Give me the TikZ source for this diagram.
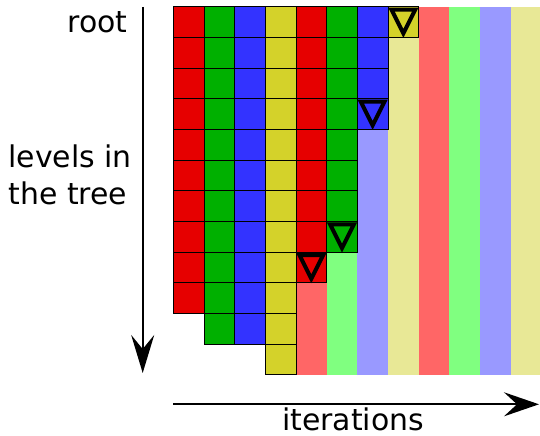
\documentclass[tikz,border=0pt]{standalone}
\usepackage{fontspec}
\setmainfont{DejaVu Sans}
\usetikzlibrary{arrows.meta}
\definecolor{cR}{HTML}{E60000}
\definecolor{cG}{HTML}{00B000}
\definecolor{cB}{HTML}{3333FF}
\definecolor{cY}{HTML}{D4D22A}
\definecolor{lR}{HTML}{FF6666}
\definecolor{lG}{HTML}{80FF80}
\definecolor{lB}{HTML}{9999FF}
\definecolor{lY}{HTML}{E8E896}
\tikzset{
  cellbox/.style={draw=black, line width=0.9bp},
  strip/.style={draw=none},
  marker/.style={draw=black, line width=4bp, line join=miter},
  axis/.style={draw=black, line width=2bp, -{Stealth[length=38bp,width=23bp,inset=14bp]}},
  lbl/.style={font=\fontsize{30}{37}\selectfont, inner sep=0pt}
}
\newcommand{\cs}{30.67}
\newcommand{\xo}{173.3}
\newcommand{\yo}{6.7}
% \cellat{col}{row}{color}
\newcommand{\cellat}[3]{%
  \path[cellbox, fill=#3] ({\xo+#1*\cs},{\yo+#2*\cs}) rectangle ++(\cs,\cs);}
% \stripat{col}{fromrow}{color}
\newcommand{\stripat}[3]{%
  \path[strip, fill=#3] ({\xo+#1*\cs},{\yo+#2*\cs}) rectangle ({\xo+(#1+1)*\cs},{\yo+12*\cs});}
\newcommand{\markat}[2]{%
  \path[marker] ({\xo+#1*\cs+3.5},{\yo+#2*\cs+3}) -- ({\xo+(#1+1)*\cs-3.5},{\yo+#2*\cs+3}) -- ({\xo+(#1+0.5)*\cs},{\yo+(#2+1)*\cs-4}) -- cycle;}
\begin{document}
\begin{tikzpicture}[x=1bp,y=-1bp]
\useasboundingbox (0,0) rectangle (540,436);
% light strips
\stripat{4}{9}{lR}
\stripat{5}{8}{lG}
\stripat{6}{4}{lB}
\stripat{7}{1}{lY}
\stripat{8}{0}{lR}
\stripat{9}{0}{lG}
\stripat{10}{0}{lB}
\stripat{11}{0}{lY}
% cells
\foreach \r in {0,...,9} {\cellat{0}{\r}{cR}}
\foreach \r in {0,...,10} {\cellat{1}{\r}{cG}}
\foreach \r in {0,...,10} {\cellat{2}{\r}{cB}}
\foreach \r in {0,...,11} {\cellat{3}{\r}{cY}}
\foreach \r in {0,...,8} {\cellat{4}{\r}{cR}}
\foreach \r in {0,...,7} {\cellat{5}{\r}{cG}}
\foreach \r in {0,...,3} {\cellat{6}{\r}{cB}}
\cellat{7}{0}{cY}
% markers
\markat{4}{8}
\markat{5}{7}
\markat{6}{3}
\markat{7}{0}
% axes
\coordinate (vtop) at (142.7,7);
\coordinate (vbot) at (142.7,373);
\coordinate (hl) at (173.3,404.3);
\coordinate (hr) at (539,404.3);
\draw[axis] (vtop) -- (vbot);
\draw[axis, -{Stealth[length=35bp,width=24bp,inset=13bp]}] (hl) -- (hr);
% labels
\node[lbl, anchor=base east] (root) at (127.7,33) {root};
\node[lbl, anchor=north west, align=left] (levels) at (8.3,145) {levels in\\the tree};
\node[lbl, anchor=base] (iter) at (353,430) {iterations};
\end{tikzpicture}
\end{document}
